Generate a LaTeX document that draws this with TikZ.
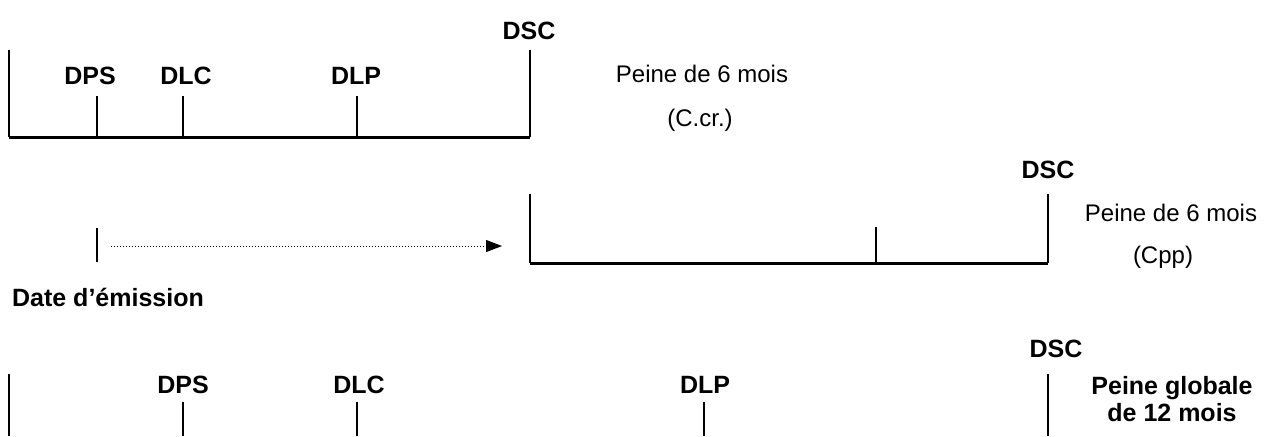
\documentclass[tikz,border=0pt]{standalone}
\usepackage{fontspec}
\setmainfont{Liberation Sans}
\usetikzlibrary{arrows.meta}

\begin{document}
\begin{tikzpicture}[x=0.5pt,y=-0.5pt,
  lbl/.style={font=\fontsize{12}{13}\selectfont,inner sep=0pt,align=center},
  blbl/.style={lbl,font=\fontsize{12.5}{13.5}\selectfont\bfseries},
  bar/.style={line width=1pt},
  base/.style={line width=1.5pt},
  arr/.style={densely dotted,line width=0.5pt,-{Triangle[length=8pt,width=6pt]}}]
  \useasboundingbox (0,0) rectangle (1280,436);
  % ligne 1 : peine C.cr.
  \node[blbl] (dps1) at (90,76) {DPS};
  \node[blbl] (dlc1) at (186,76) {DLC};
  \node[blbl] (dlp1) at (356,76) {DLP};
  \node[blbl] (dsc1) at (529,31) {DSC};
  \node[lbl] (peine1) at (702,74) {Peine de 6 mois};
  \node[lbl] (ccr) at (700,120) {(C.cr.)};
  \draw[bar] (9,50) -- (9,137);
  \draw[bar] (530,50) -- (530,137);
  \draw[bar] (97,96) -- (97,137);
  \draw[bar] (183,96) -- (183,137);
  \draw[bar] (357,96) -- (357,137);
  \draw[base] (9,137) -- (530,137);
  % ligne 2 : peine Cpp
  \coordinate (emis) at (111,246);
  \coordinate (debut) at (502,246);
  \draw[bar] (97,228) -- (97,262);
  \draw[arr] (emis) -- (debut);
  \node[blbl] (date) at (108,297) {Date d’émission};
  \node[blbl] (dsc2) at (1048,170) {DSC};
  \node[lbl] (peine2) at (1171,213) {Peine de 6 mois};
  \node[lbl] (cpp) at (1163,257) {(Cpp)};
  \draw[bar] (530,194) -- (530,263);
  \draw[bar] (1048,194) -- (1048,263);
  \draw[bar] (876,227) -- (876,263);
  \draw[base] (530,263) -- (1048,263);
  % ligne 3 : peine globale
  \node[blbl] (dps3) at (183,385) {DPS};
  \node[blbl] (dlc3) at (359,385) {DLC};
  \node[blbl] (dlp3) at (705,385) {DLP};
  \node[blbl] (dsc3) at (1056,349) {DSC};
  \node[blbl] (glob) at (1172,399) {Peine globale\\de 12 mois};
  \draw[bar] (9,374) -- (9,436);
  \draw[bar] (1048,374) -- (1048,436);
  \draw[bar] (183,402) -- (183,436);
  \draw[bar] (357,402) -- (357,436);
  \draw[bar] (704,402) -- (704,436);
\end{tikzpicture}
\end{document}
